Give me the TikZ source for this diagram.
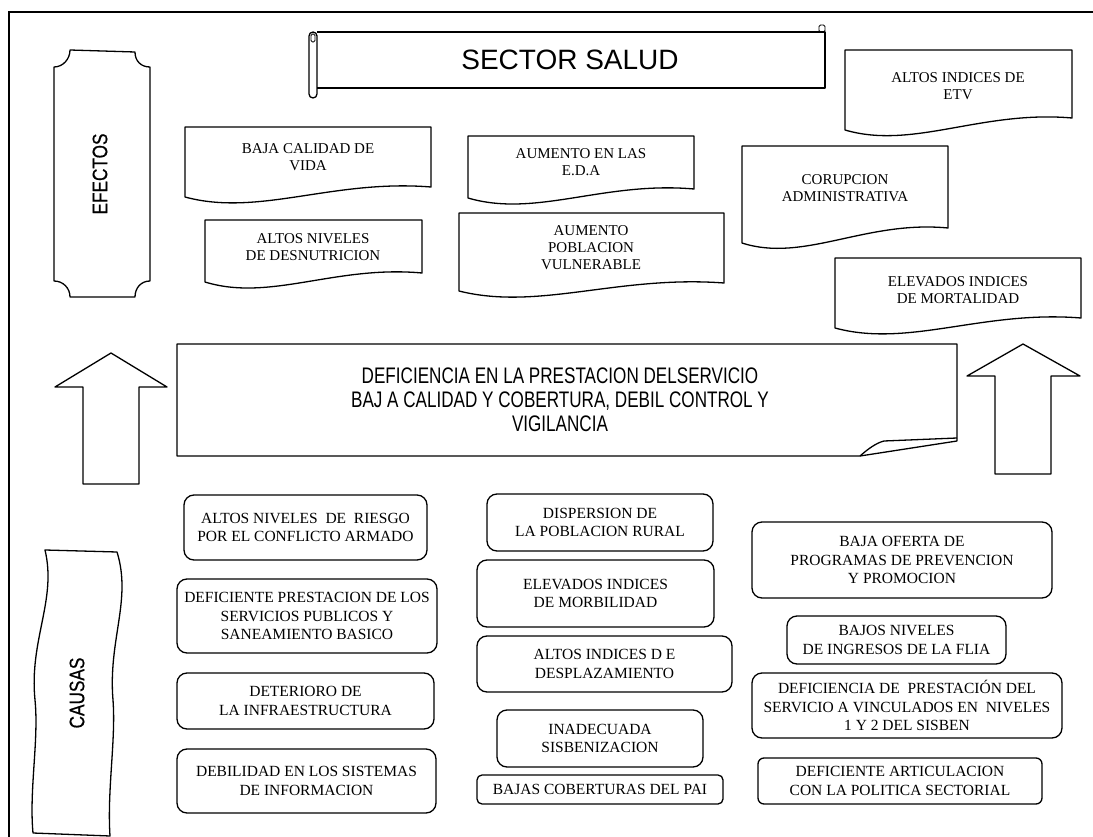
\documentclass[tikz,border=0pt]{standalone}
\usepackage{fontspec}
\setmainfont{Liberation Serif}
\newfontfamily\titlefont{Liberation Sans}
\newfontfamily\narrowfont[FakeStretch=0.76]{Liberation Sans}
\newfontfamily\sidefont[FakeStretch=0.82, FakeBold=0.6]{Liberation Sans}
\usetikzlibrary{calc}

\tikzset{
  shapeline/.style={line width=1.3pt, line join=round},
  effect/.style={align=center, inner sep=0pt, font=\fontsize{15}{17}\selectfont},
  cause/.style={draw, line width=1.3pt, rounded corners=10pt, align=center, inner sep=0pt,
    font=\fontsize{15.5}{18.5}\selectfont},
  sidelabel/.style={rotate=90, inner sep=0pt, font=\sidefont\fontsize{21}{23}\selectfont}
}

% document shape with wavy bottom: x1, top, x2, right bottom, left bottom
\newcommand{\docshape}[5]{%
  \pgfmathsetmacro{\ca}{#1+0.6*(#3-#1)}
  \pgfmathsetmacro{\cb}{#1+0.3*(#3-#1)}
  \draw [shapeline] (#1, #2) -- (#3, #2) -- (#3, #4)
    .. controls (\ca, #4-8) and (\cb, #5+20) .. (#1, #5) -- cycle;
}

\begin{document}
\begin{tikzpicture}[x=1pt, y=-1pt]
\useasboundingbox (0, 0) rectangle (1093, 837);
\draw [line width=1.3pt] (9, 837) -- (9, 12) -- (1093, 12);

% title scroll
\draw [shapeline] (317, 32) -- (825, 32) -- (825, 88) -- (317, 88);
\draw [shapeline, rounded corners=4pt] (309, 32) rectangle (317, 98);
\draw [line width=0.8pt, rounded corners=1.5pt] (311, 34) rectangle (315, 42);
\draw [line width=0.8pt, rounded corners=1.5pt] (819, 25) rectangle (825, 32);
\node [font=\titlefont\fontsize{28}{30}\selectfont, inner sep=0pt] (salud) at (570, 60) {SECTOR SALUD};

% efectos plaque
\draw [shapeline] (70, 50) -- (135, 52) .. controls (135, 61) and (141, 67) .. (150, 67)
  -- (150, 281) .. controls (141, 281) and (135, 288) .. (135, 297)
  -- (70, 297) .. controls (70, 288) and (63, 281) .. (54, 281)
  -- (54, 67) .. controls (63, 67) and (70, 59) .. (70, 50) -- cycle;
\node [sidelabel] (efectos) at (100, 174) {EFECTOS};

\docshape{185}{127}{431}{187}{197}
\node [effect] (vida) at (308, 157) {BAJA CALIDAD DE\\VIDA};
\docshape{205}{220}{422}{273}{282}
\node [effect] (desnutricion) at (313, 247) {ALTOS NIVELES\\DE DESNUTRICION};
\docshape{468}{136}{694}{189}{198}
\node [effect] (eda) at (581, 162) {AUMENTO EN LAS\\E.D.A};
\docshape{459}{213}{724}{283}{291}
\node [effect] (vulnerable) at (591, 248) {AUMENTO\\POBLACION\\VULNERABLE};
\docshape{845}{50}{1072}{118}{130}
\node [effect] (etv) at (958, 86) {ALTOS INDICES DE\\ETV};
\docshape{742}{146}{948}{228}{243}
\node [effect] (corrupcion) at (845, 188) {CORUPCION\\ADMINISTRATIVA};
\docshape{835}{258}{1081}{318}{328}
\node [effect] (mortalidad) at (958, 290) {ELEVADOS INDICES\\DE MORTALIDAD};

% central problem
\draw [shapeline] (177, 344) -- (957, 344) -- (957, 441) -- (860, 456) -- (177, 456) -- cycle;
\draw [shapeline] (860, 456) .. controls (868, 449) and (876, 443) .. (884, 441) -- (957, 438);
\node [align=center, inner sep=0pt, font=\narrowfont\fontsize{22.5}{24}\selectfont] (deficiencia) at (560, 400)
  {DEFICIENCIA EN LA PRESTACION DELSERVICIO\\BAJ A CALIDAD Y COBERTURA, DEBIL CONTROL Y\\VIGILANCIA};

% block arrows
\draw [shapeline] (111, 353) -- (167, 387) -- (139, 387) -- (139, 484) -- (83, 484) -- (83, 387) -- (55, 387) -- cycle;
\draw [shapeline] (1023, 344) -- (1080, 376) -- (1051, 376) -- (1051, 474) -- (995, 474) -- (995, 376) -- (967, 376) -- cycle;

% causas banner
\draw [shapeline] (45, 550) -- (117, 552)
  .. controls (132, 600) and (108, 640) .. (113, 700)
  .. controls (116, 740) and (107, 790) .. (110, 836)
  -- (33, 833)
  .. controls (29, 790) and (39, 740) .. (35, 700)
  .. controls (29, 640) and (57, 600) .. (45, 550) -- cycle;
\node [sidelabel] (causas) at (77, 693) {CAUSAS};

\node [cause, minimum width=243pt, minimum height=65pt] (riesgo) at (305.5, 527.5)
  {ALTOS NIVELES~ DE~ RIESGO\\POR EL CONFLICTO ARMADO};
\node [cause, minimum width=260pt, minimum height=74pt] (servicios) at (307, 616)
  {DEFICIENTE PRESTACION DE LOS\\SERVICIOS PUBLICOS Y\\SANEAMIENTO BASICO};
\node [cause, minimum width=257pt, minimum height=56pt] (infraestructura) at (305.5, 701)
  {DETERIORO DE\\LA INFRAESTRUCTURA};
\node [cause, minimum width=259pt, minimum height=64pt] (informacion) at (306.5, 781)
  {DEBILIDAD EN LOS SISTEMAS\\DE INFORMACION};

\node [cause, minimum width=226pt, minimum height=57pt] (dispersion) at (600, 522.5)
  {DISPERSION DE\\LA POBLACION RURAL};
\node [cause, minimum width=237pt, minimum height=67pt] (morbilidad) at (595.5, 593.5)
  {ELEVADOS INDICES\\DE MORBILIDAD};
\node [cause, minimum width=255pt, minimum height=56pt] (desplazamiento) at (604.5, 664)
  {ALTOS INDICES D E\\DESPLAZAMIENTO};
\node [cause, minimum width=206pt, minimum height=57pt] (sisben) at (600, 738.5)
  {INADECUADA\\SISBENIZACION};
\node [cause, minimum width=246pt, minimum height=29pt, rounded corners=5pt] (pai) at (600, 789.5)
  {BAJAS COBERTURAS DEL PAI};

\node [cause, minimum width=300pt, minimum height=76pt] (prevencion) at (902, 560)
  {BAJA OFERTA DE\\PROGRAMAS DE PREVENCION\\Y PROMOCION};
\node [cause, minimum width=219pt, minimum height=48pt] (ingresos) at (896.5, 640)
  {BAJOS NIVELES\\DE INGRESOS DE LA FLIA};
\node [cause, minimum width=310pt, minimum height=65pt] (vinculados) at (907, 705.5)
  {DEFICIENCIA DE~ PRESTACIÓN DEL\\SERVICIO A VINCULADOS EN~ NIVELES\\1 Y 2 DEL SISBEN};
\node [cause, minimum width=284pt, minimum height=46pt, rounded corners=6pt] (articulacion) at (900, 781)
  {DEFICIENTE ARTICULACION\\CON LA POLITICA SECTORIAL};
\end{tikzpicture}
\end{document}
